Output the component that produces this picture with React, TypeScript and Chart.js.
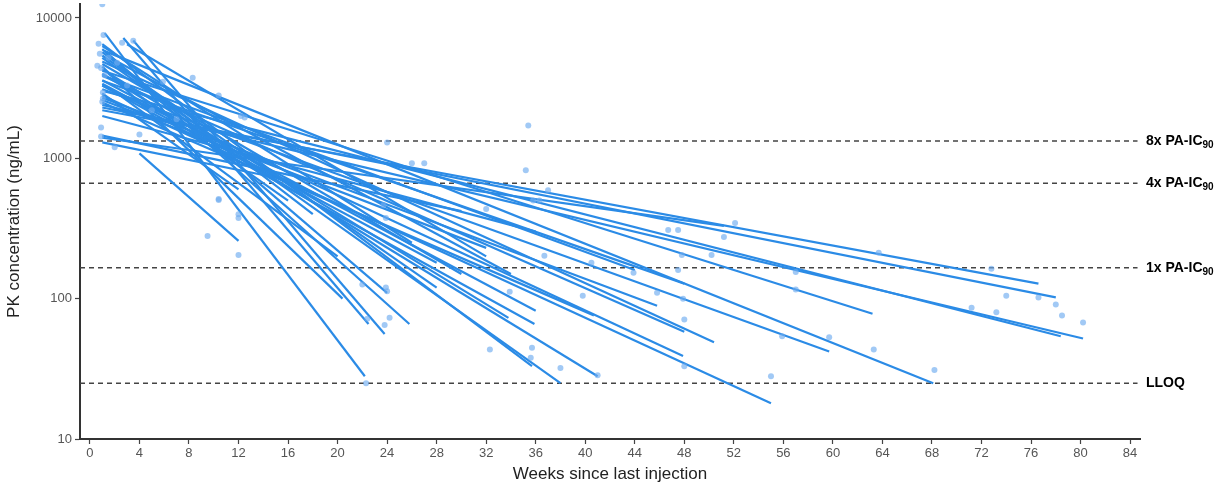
import React, { useEffect, useRef } from 'react';
import { Chart, registerables } from 'chart.js';
Chart.register(...registerables);

// Individual subject fitted decay lines: start week, start conc, end week, end conc
const LINE_START_WEEK = [1.0, 1.0, 1.2, 1.0, 1.0, 1.0, 1.0, 1.2, 1.0, 1.0, 1.0, 1.0, 1.0, 1.0,
  1.2, 2.7, 3.5, 1.0, 4.0, 1.0, 1.0, 1.0, 1.0, 1.0, 1.0, 1.0, 1.0, 1.0,
  1.0, 1.0, 2.0, 1.0, 1.5, 3.0, 1.0, 1.0, 1.0, 2.0, 1.0, 1.0, 1.0, 1.5, 1.0];
const LINE_START_CONC = [2200, 2300, 3000, 2400, 1400, 4200, 3100, 5800, 2800, 4900, 3880, 3570, 3300, 1450,
  7800, 7200, 6900, 6000, 1085, 4500, 6500, 5200, 4000, 3600, 4300, 3300, 2700, 2500,
  4700, 5400, 3000, 1300, 4000, 6500, 3900, 6300, 5700, 5000, 2900, 3400, 2600, 5500, 2000];
const LINE_END_WEEK = [76.6, 78.0, 78.4, 80.2, 51.2, 63.2, 59.7, 68.1, 55.0, 50.4, 48.0, 48.0, 47.9, 30.0,
  22.2, 22.5, 23.8, 25.8, 12.0, 20.4, 35.7, 38.0, 41.0, 36.0, 33.8, 35.9, 45.8, 40.7,
  30.0, 28.0, 20.0, 16.0, 16.0, 32.0, 44.0, 26.0, 18.0, 34.0, 12.0, 28.0, 32.0, 24.0, 36.0];
const LINE_END_CONC = [128, 102, 54, 52, 330, 78, 42, 25, 18, 49, 58, 128, 39, 420,
  28, 66, 56, 66, 258, 100, 33, 25, 28, 82, 73, 66, 89, 76,
  150, 120, 200, 700, 500, 200, 160, 250, 400, 150, 600, 180, 230, 110, 300];

// Observed concentrations
const OBS_WEEK = [1.0, 1.1, 0.7, 0.8, 0.6, 0.9, 1.05, 1.05, 1.0, 0.9, 0.9, 2.0, 2.6, 3.5, 8.3, 5.9, 10.4, 4.0,
  12.2, 12.5, 10.4, 9.5, 12.0, 10.4, 12.0, 12.0, 24.0, 26.0, 27.0, 23.7, 23.9, 32.0, 35.4, 35.2, 37.0,
  35.8, 36.3, 36.7, 40.5, 43.9, 23.9, 24.0, 24.2, 23.8, 33.9, 39.8, 45.8, 32.3, 35.7, 35.6, 38.0, 41.0,
  22.4, 22.3, 22.0, 52.1, 63.7, 46.7, 47.5, 51.2, 47.8, 50.2, 47.5, 57.0, 57.0, 47.9, 48.0, 55.9, 59.7,
  63.3, 68.2, 55.0, 48.0, 72.8, 74.0, 76.6, 78.0, 78.5, 80.2, 71.2, 73.2, 1.2, 1.5, 2.2, 3.0, 5.0, 7.0];
const OBS_CONC = [12500, 7570, 6550, 5550, 4570, 4400, 2940, 2670, 2530, 1660, 1430, 1200, 6650, 6870, 3750, 3510, 2800, 1480,
  2000, 1950, 513, 280, 205, 504, 400, 375, 1297, 922, 922, 464, 375, 435, 1714, 822, 593,
  500, 500, 202, 180, 153, 120, 113, 73, 65, 112, 105, 110, 43.5, 44.6, 38, 32, 28.5,
  72, 25, 126, 346, 212, 308, 308, 275, 205, 205, 160, 155, 116, 100, 71, 54, 53,
  43.5, 31, 28, 33, 163, 105, 102, 91, 76, 67.6, 86, 80, 3900, 5200, 4800, 3300, 2200, 1900];

// Reference thresholds
const REF_VALUES = [1330, 665, 166, 25];
const REF_LABELS = [['8x PA-IC', '90'], ['4x PA-IC', '90'], ['1x PA-IC', '90'], ['LLOQ', '']];

const X_TICKS = [0, 4, 8, 12, 16, 20, 24, 28, 32, 36, 40, 44, 48, 52, 56, 60, 64, 68, 72, 76, 80, 84];
const Y_TICKS = [10, 100, 1000, 10000];

const FONT = '"Liberation Sans", Arial, sans-serif';

export default function App() {
  const ref = useRef<HTMLCanvasElement>(null);
  useEffect(() => {
    document.body.style.margin = '0';
    const lineSets = LINE_START_WEEK.map((x0, i) => ({
      type: 'line' as const,
      data: [{ x: x0, y: LINE_START_CONC[i] }, { x: LINE_END_WEEK[i], y: LINE_END_CONC[i] }],
      borderColor: '#2b8be6',
      borderWidth: 2.2,
      pointRadius: 0,
      fill: false,
      order: 2,
    }));
    const refSets = REF_VALUES.map((v) => ({
      type: 'line' as const,
      data: [{ x: -0.8, y: v }, { x: 84.6, y: v }],
      borderColor: '#444',
      borderWidth: 1.5,
      borderDash: [5, 4],
      pointRadius: 0,
      fill: false,
      order: 3,
    }));
    const pts = {
      type: 'scatter' as const,
      data: OBS_WEEK.map((x, i) => ({ x, y: OBS_CONC[i] })),
      backgroundColor: 'rgba(110,172,240,0.65)',
      borderWidth: 0,
      pointRadius: 3,
      order: 1,
    };
    const labelPlugin = {
      id: 'refLabels',
      afterDatasetsDraw(chart: any) {
        const ctx = chart.ctx;
        const ys = chart.scales.y;
        const xr = chart.chartArea.right + 6;
        ctx.save();
        ctx.fillStyle = '#000';
        ctx.textBaseline = 'middle';
        ctx.textAlign = 'left';
        REF_VALUES.forEach((v, i) => {
          const py = ys.getPixelForValue(v);
          ctx.font = 'bold 14px ' + FONT;
          const [main, sub] = REF_LABELS[i];
          ctx.fillText(main, xr, py);
          if (sub) {
            const w = ctx.measureText(main).width;
            ctx.font = 'bold 10px ' + FONT;
            ctx.fillText(sub, xr + w, py + 4);
          }
        });
        ctx.restore();
      },
    };
    const chart = new Chart(ref.current!, {
      type: 'line',
      data: { datasets: [pts, ...lineSets, ...refSets] as any },
      options: {
        animation: false,
        responsive: false,
        maintainAspectRatio: false,
        layout: { padding: { top: 0, right: 84, left: 0, bottom: 0 } },
        plugins: { legend: { display: false }, tooltip: { enabled: false } },
        scales: {
          x: {
            type: 'linear',
            min: -0.8,
            max: 84.8,
            afterBuildTicks: (s: any) => { s.ticks = X_TICKS.map((v) => ({ value: v })); },
            afterFit: (s: any) => { s.height = 49; s.paddingLeft = 0; s.paddingRight = 0; },
            ticks: { color: '#555', font: { family: FONT, size: 13 }, padding: 2, maxRotation: 0, autoSkip: false },
            grid: { drawOnChartArea: false, drawTicks: true, tickLength: 5, tickColor: '#444', tickWidth: 1.2 },
            border: { display: true, color: '#333', width: 2 },
            title: { display: true, text: 'Weeks since last injection', color: '#222', font: { family: FONT, size: 17 }, padding: { top: 0, bottom: 3 } },
          },
          y: {
            type: 'logarithmic',
            min: 10,
            max: 12570,
            afterBuildTicks: (s: any) => { s.ticks = Y_TICKS.map((v) => ({ value: v })); },
            afterFit: (s: any) => { s.width = 80; s.paddingTop = 0; s.paddingBottom = 0; },
            ticks: { color: '#555', font: { family: FONT, size: 13 }, padding: 3, callback: (v: any) => String(v) },
            grid: { drawOnChartArea: false, drawTicks: true, tickLength: 5, tickColor: '#444', tickWidth: 1.2 },
            border: { display: true, color: '#333', width: 2 },
            title: { display: true, text: 'PK concentration (ng/mL)', color: '#222', font: { family: FONT, size: 17 }, padding: { top: 4, bottom: 0 } },
          },
        },
      },
      plugins: [labelPlugin],
    } as any);
    return () => chart.destroy();
  }, []);
  return (
    <div style={{ width: 1224, height: 488, overflow: 'hidden', background: '#fff' }}>
      <canvas ref={ref} width={1224} height={488} />
    </div>
  );
}
